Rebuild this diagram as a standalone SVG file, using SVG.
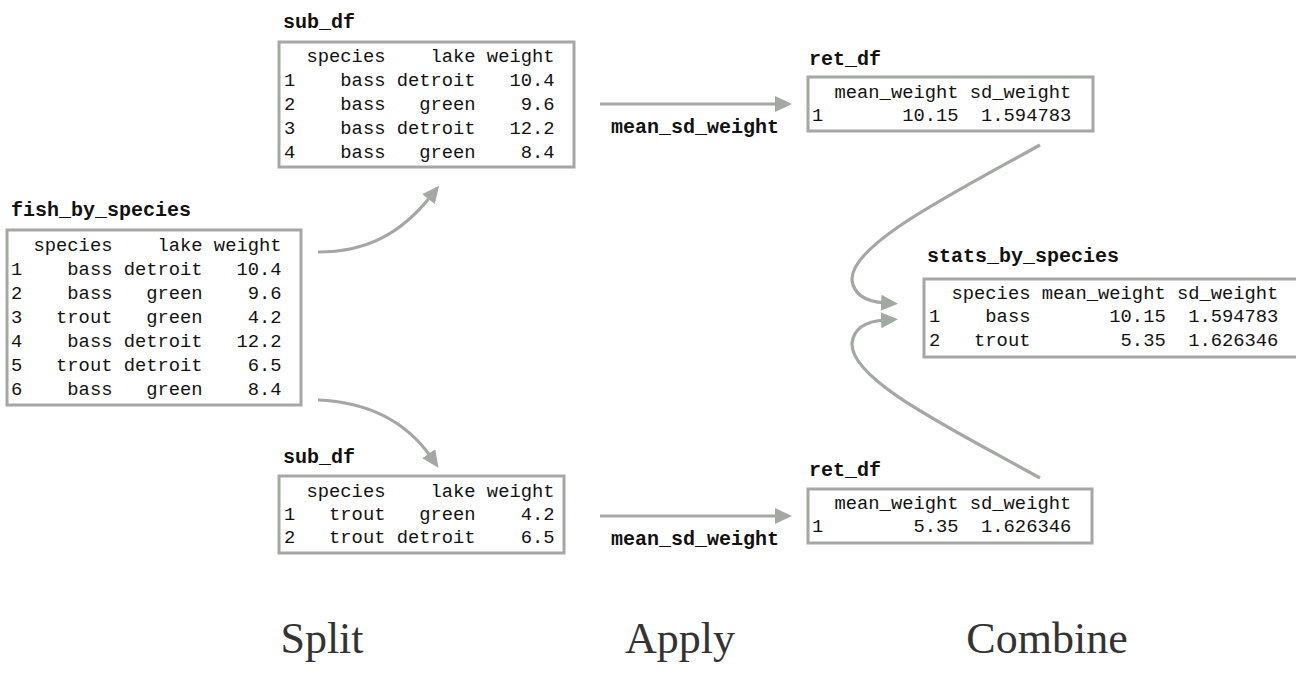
<svg xmlns="http://www.w3.org/2000/svg" width="1296" height="674" viewBox="0 0 1296 674" xml:space="preserve">
<style>
.box{fill:#fff;stroke:#a4a8a3;stroke-width:3}
.t{font-family:"Liberation Mono","DejaVu Sans Mono",monospace;font-size:18.8px;fill:#111;white-space:pre}
.h{font-family:"Liberation Mono","DejaVu Sans Mono",monospace;font-size:20px;font-weight:bold;fill:#111;white-space:pre}
.c{fill:none;stroke:#a4a8a3;stroke-width:3.2;marker-end:url(#ah)}
.s{font-family:"Liberation Serif","Times New Roman",serif;font-size:44px;fill:#333;text-anchor:middle}
</style>
<defs>
<marker id="ah" markerUnits="userSpaceOnUse" markerWidth="18" markerHeight="16" viewBox="0 0 18 16" refX="4" refY="8" orient="auto">
<path d="M0,0 L17,8 L0,16 z" fill="#a4a8a3"/>
</marker>
</defs>
<rect width="1296" height="674" fill="#fff"/>

<g id="fish_by_species">
<text class="h" x="11" y="216">fish_by_species</text>
<rect class="box" x="7" y="230" width="294" height="175"/>
<text class="t" x="11" y="251">  species    lake weight</text>
<text class="t" x="11" y="275">1    bass detroit   10.4</text>
<text class="t" x="11" y="299">2    bass   green    9.6</text>
<text class="t" x="11" y="323">3   trout   green    4.2</text>
<text class="t" x="11" y="347">4    bass detroit   12.2</text>
<text class="t" x="11" y="371">5   trout detroit    6.5</text>
<text class="t" x="11" y="395">6    bass   green    8.4</text>
</g>

<g id="sub_df_bass">
<text class="h" x="283" y="28">sub_df</text>
<rect class="box" x="279" y="42" width="295" height="125"/>
<text class="t" x="284" y="62">  species    lake weight</text>
<text class="t" x="284" y="86">1    bass detroit   10.4</text>
<text class="t" x="284" y="110">2    bass   green    9.6</text>
<text class="t" x="284" y="134">3    bass detroit   12.2</text>
<text class="t" x="284" y="158">4    bass   green    8.4</text>
</g>

<g id="sub_df_trout">
<text class="h" x="283" y="463">sub_df</text>
<rect class="box" x="279" y="476" width="285" height="77"/>
<text class="t" x="284" y="497">  species    lake weight</text>
<text class="t" x="284" y="520">1   trout   green    4.2</text>
<text class="t" x="284" y="543">2   trout detroit    6.5</text>
</g>

<g id="ret_df_bass">
<text class="h" x="809" y="65">ret_df</text>
<rect class="box" x="808" y="77" width="285" height="54"/>
<text class="t" x="812" y="98">  mean_weight sd_weight</text>
<text class="t" x="812" y="121">1       10.15  1.594783</text>
</g>

<g id="ret_df_trout">
<text class="h" x="809" y="476">ret_df</text>
<rect class="box" x="808" y="489" width="284" height="54"/>
<text class="t" x="812" y="509">  mean_weight sd_weight</text>
<text class="t" x="812" y="532">1        5.35  1.626346</text>
</g>

<g id="stats_by_species">
<text class="h" x="927" y="262">stats_by_species</text>
<rect class="box" x="924" y="279" width="380" height="78"/>
<text class="t" x="929" y="299">  species mean_weight sd_weight</text>
<text class="t" x="929" y="322">1    bass       10.15  1.594783</text>
<text class="t" x="929" y="346">2   trout        5.35  1.626346</text>
</g>

<g id="connectors">
<path class="c" d="M318,252 C365,252 400,235 431,196"/>
<path class="c" d="M318,400 C365,402 405,420 431,457"/>
<path class="c" d="M600,104 L779,104"/>
<path class="c" d="M600,516 L779,516"/>
<path class="c" d="M1040,145 C950,195 850,245 852,280 C854,297 870,302 885,303"/>
<path class="c" d="M1040,478 C950,428 850,380 852,343 C854,326 870,321 885,320"/>
<text class="h" x="611" y="133">mean_sd_weight</text>
<text class="h" x="611" y="545">mean_sd_weight</text>
</g>

<g id="stage_labels">
<text class="s" x="322" y="653">Split</text>
<text class="s" x="680" y="653">Apply</text>
<text class="s" x="1047" y="653">Combine</text>
</g>
</svg>
